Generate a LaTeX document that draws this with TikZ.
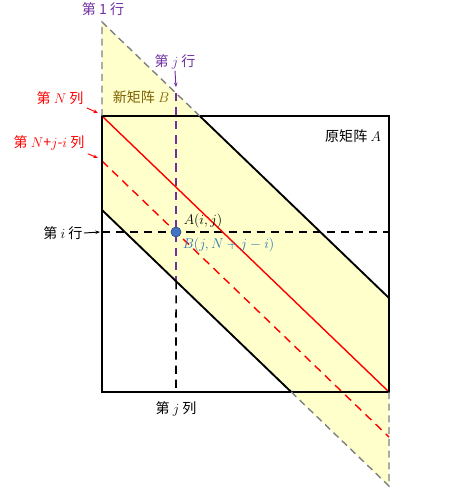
\documentclass[tikz,border=0pt]{standalone}
\usepackage{fontspec}
\usepackage{xcolor}
\usepackage{tikz}
\usetikzlibrary{arrows.meta,positioning,calc}
\newfontfamily\cjk{Noto Sans CJK SC}
\definecolor{mxpurple}{HTML}{7030A0}
\definecolor{mxred}{HTML}{FF0000}
\definecolor{mxdot}{HTML}{4472C4}
\definecolor{mxbtext}{HTML}{2E75B6}
\definecolor{mxolive}{HTML}{7F6000}
\definecolor{mxband}{HTML}{FFFFCC}
\definecolor{mxgray}{HTML}{808080}

\begin{document}
\begin{tikzpicture}[
  x=0.03cm, y=-0.03cm,
  lbl/.style={font=\fontsize{12}{14}\selectfont\cjk, inner sep=1pt},
  outline/.style={line width=1.6pt, black},
  ghost/.style={line width=1.2pt, mxgray, dash pattern=on 6pt off 4pt},
  guide/.style={line width=1.3pt, dash pattern=on 7pt off 5pt},
  redline/.style={line width=1.2pt, mxred},
  pointer/.style={-{Stealth[length=4pt]}, line width=0.8pt},
]
\useasboundingbox (0,0) rectangle (470,491);

% original matrix A
\coordinate (tl) at (102,116);
\coordinate (tr) at (389,116);
\coordinate (br) at (389,392);
\coordinate (bl) at (102,392);
% band of the new matrix B
\coordinate (u1) at (102,22);
\coordinate (u2) at (389,298);
\coordinate (l1) at (102,210);
\coordinate (l2) at (389,486);
\coordinate (ut) at (intersection of u1--u2 and tl--tr);
\coordinate (lb) at (intersection of l1--l2 and bl--br);
% guides through A(i,j)
\coordinate (ia) at (102,232);
\coordinate (ib) at (389,232);
\coordinate (ja) at (176,0);
\coordinate (jb) at (176,392);
\coordinate (jtop) at (intersection of u1--u2 and ja--jb);
\coordinate (jlow) at (intersection of l1--l2 and ja--jb);
\coordinate (r1) at (102,161);
\coordinate (r2) at (389,437);

\fill[mxband] (u1) -- (u2) -- (l2) -- (l1) -- cycle;

\draw[guide] (ia) -- (ib);
\draw[guide, mxpurple] (jtop) -- (jlow);
\draw[guide] (jlow) -- (jb);

\draw[redline] (tl) -- (br);
\draw[redline, dash pattern=on 7pt off 5pt] (r1) -- (r2);

\draw[outline] (tl) rectangle (br);
\draw[outline] (ut) -- (u2);
\draw[outline] (l1) -- (lb);
\draw[ghost] (ut) -- (u1) -- (tl);
\draw[ghost] (lb) -- (l2) -- (br);

\node[circle, fill=mxdot, draw=mxdot!70!black, line width=0.6pt,
      minimum size=0.3cm, inner sep=0pt] (pt) at (176,232) {};

% labels
\node[lbl, text=mxpurple] (row1) at (103,9) {第 1 行};
\node[lbl, text=mxpurple] (rowj) at (175,62) {第 $j$ 行};
\draw[pointer, mxpurple] (rowj.south) -- ($(jtop)+(0,-6)$);
\node[lbl, text=mxolive] (nameb) at (141,97) {新矩阵 $B$};
\node[lbl, text=mxred] (ncol) at (60,98) {第 $N$ 列};
\draw[pointer, mxred] ($(ncol.south east)+(2,2)$) -- ($(tl)+(-4,-3)$);
\node[lbl, text=mxred] (njicol) at (49,143) {第 $N$+$j$-$i$ 列};
\draw[pointer, mxred] ($(njicol.south east)+(2,2)$) -- ($(r1)+(-4,-3)$);
\node[lbl] (irow) at (63,233) {第 $i$ 行};
\draw[pointer] (irow.east) -- ($(ia)+(-2,0)$);
\node[lbl] (namea) at (353,136) {原矩阵 $A$};
\node[lbl] (jcol) at (176,409) {第 $j$ 列};
\node[lbl, anchor=south west, font=\fontsize{13}{15}\selectfont] (aij)
  at ($(pt.east)+(1,-3)$) {$A(i,j)$};
\node[lbl, anchor=north west, text=mxbtext, font=\fontsize{13}{15}\selectfont] (bij)
  at ($(pt.east)+(0,5)$) {$B(j,N+j-i)$};

\end{tikzpicture}
\end{document}
